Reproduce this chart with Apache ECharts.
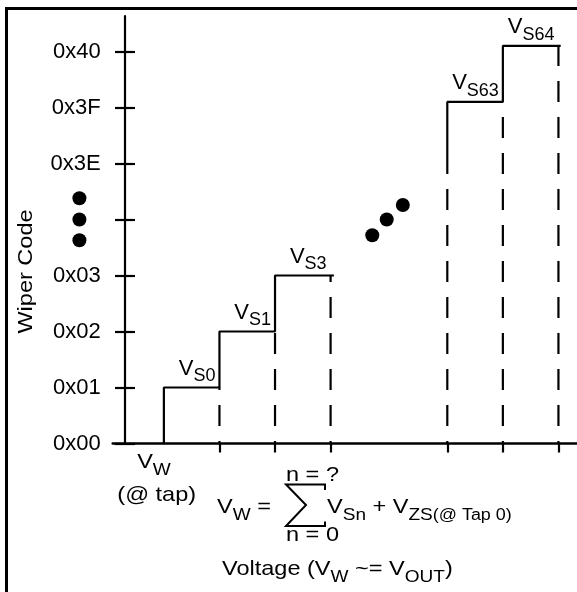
<!DOCTYPE html>
<html>
<head>
<meta charset="utf-8">
<title>Wiper Code vs Voltage</title>
<script src="https://cdn.jsdelivr.net/npm/echarts@6/dist/echarts.min.js"></script>
<style>
  html, body { margin: 0; padding: 0; background: #fff; }
  #chart { width: 577px; height: 592px; }
</style>
</head>
<body>
<div id="chart"></div>
<script>
  // wiper codes on the y axis (0x04 .. 0x3D are left out of the drawing)
  var codeTicks = [0, 1, 2, 3, 4, 5, 6, 7];
  var codeLabels = ['0x00', '0x01', '0x02', '0x03', '', '0x3E', '0x3F', '0x40'];

  // staircase: x in tap steps measured from the code axis, y in code steps
  var lowStepX = [0.7, 1.7, 2.7, 3.76];
  var lowStepY = [0, 1, 2, 3];
  var highStepX = [5.8, 6.8, 7.84];
  var highStepY = [5.1, 6.1, 7.1];

  // dashed tap boundaries and the code level each one reaches
  var tapEdgeX = [1.7, 2.7, 3.7, 5.8, 6.8, 7.8];
  var tapEdgeTop = [1, 2, 3, 5.1, 6.1, 7.1];

  // step names, sitting on the right end of their step
  var stepNames = ['S0', 'S1', 'S3', 'S63', 'S64'];
  var stepNameX = [1.7, 2.7, 3.7, 6.8, 7.8];
  var stepNameY = [1, 2, 3, 6.1, 7.1];

  // the "..." marks
  var gapDotX = [4.45, 4.71, 5.0];
  var gapDotY = [3.72, 4.0, 4.26];
  var axisDotX = [-0.82, -0.82, -0.82];
  var axisDotY = [3.63, 4.0, 4.38];

  var FONT = '"Liberation Sans", Arial, Helvetica, sans-serif';

  function pairs(xs, ys) {
    return xs.map(function (x, i) { return [x, ys[i]]; });
  }

  // rich styles for V with subscript
  var labelRich = {
    v: { fontSize: 22, fontFamily: FONT, color: '#000', height: 22, lineHeight: 22, verticalAlign: 'top' },
    s: { fontSize: 18, fontFamily: FONT, color: '#000', height: 18, lineHeight: 28, padding: [10, 0, 0, 0], verticalAlign: 'top' }
  };
  var textRich = {
    v: { fontSize: 21, fontFamily: FONT, height: 21, lineHeight: 21, verticalAlign: 'top' },
    s: { fontSize: 17, fontFamily: FONT, height: 17, lineHeight: 28, padding: [10, 0, 0, 0], verticalAlign: 'top' },
    t: { fontSize: 16, fontFamily: FONT, height: 16, lineHeight: 28, padding: [10.9, 0, 0, 0], verticalAlign: 'top' }
  };
  var SX = 1.12;   // the source lettering is a bit wider than Arial

  var chart = echarts.init(document.getElementById('chart'));

  var series = [];
  series.push({
    type: 'line', name: 'low steps', step: 'start',
    data: pairs(lowStepX, lowStepY),
    showSymbol: false, clip: false, z: 3,
    lineStyle: { color: '#000', width: 2.2 }
  });
  series.push({
    type: 'line', name: 'high steps', step: 'start',
    data: pairs(highStepX, highStepY),
    showSymbol: false, clip: false, z: 3,
    lineStyle: { color: '#000', width: 2.2 }
  });
  for (var i = 0; i < tapEdgeX.length; i++) {
    series.push({
      type: 'line', name: 'edge' + i,
      data: [[tapEdgeX[i], 0], [tapEdgeX[i], tapEdgeTop[i]]],
      showSymbol: false, clip: false, z: 2,
      lineStyle: { color: '#000', width: 2.2, type: [21, 15], dashOffset: 18.5 }
    });
  }
  series.push({
    type: 'scatter', name: 'gap dots',
    data: pairs(gapDotX, gapDotY),
    symbolSize: 14, itemStyle: { color: '#000', opacity: 1 }, clip: false
  });
  series.push({
    type: 'scatter', name: 'axis dots',
    data: pairs(axisDotX, axisDotY),
    symbolSize: 14, itemStyle: { color: '#000', opacity: 1 }, clip: false
  });
  series.push({
    type: 'scatter', name: 'step names',
    data: stepNames.map(function (n, k) { return { name: n, value: [stepNameX[k], stepNameY[k]] }; }),
    symbolSize: 1, itemStyle: { color: 'rgba(0,0,0,0)', opacity: 1 }, clip: false,
    label: {
      show: true, position: 'insideBottomRight', distance: 0, offset: [-4.5, -2.5],
      color: '#000', opacity: 1,
      formatter: function (p) { return '{v|V}{s|' + p.name + '}'; },
      rich: labelRich
    }
  });

  var option = {
    backgroundColor: '#fff',
    animation: false,
    grid: { left: 112.7, right: 0, top: 16, bottom: 148.5 },
    xAxis: {
      type: 'value', min: -0.221, max: 8.134,
      axisLine: { show: true, onZero: false, lineStyle: { color: '#000', width: 2.5 } },
      axisTick: { show: true, length: 9, customValues: tapEdgeX, lineStyle: { color: '#000', width: 2.2 } },
      axisLabel: { show: false },
      splitLine: { show: false }
    },
    yAxis: [
      {
        type: 'value', position: 'left', min: 0, max: 7.634,
        axisLine: { show: true, onZero: true, onZeroAxisIndex: 0, lineStyle: { color: '#000', width: 2.2 } },
        axisTick: { show: true, length: 10, customValues: codeTicks, lineStyle: { color: '#000', width: 2.2 } },
        axisLabel: {
          show: true, customValues: codeTicks, margin: 12,
          fontSize: 22, fontFamily: FONT, color: '#000',
          formatter: function (v) { return codeLabels[v] || ''; }
        },
        splitLine: { show: false }
      },
      {
        // same axis again, only to draw the right half of each cross tick
        type: 'value', position: 'left', min: 0, max: 7.634,
        axisLine: { show: false, onZero: true, onZeroAxisIndex: 0 },
        axisTick: { show: true, inside: true, length: 10, customValues: codeTicks, lineStyle: { color: '#000', width: 2.2 } },
        axisLabel: { show: false },
        splitLine: { show: false }
      }
    ],
    graphic: [
      { type: 'rect', silent: true, shape: { x: 6.5, y: 8.5, width: 700, height: 700 },
        style: { fill: 'none', stroke: '#000', lineWidth: 3 } },
      { type: 'text', silent: true, x: 26, y: 271.5, rotation: Math.PI / 2, scaleX: SX,
        style: { text: 'Wiper Code', font: '21px ' + FONT, fill: '#000', align: 'center', verticalAlign: 'middle' } },
      { type: 'text', silent: true, x: 154, y: 452, scaleX: SX,
        style: { text: '{v|V}{s|W}', rich: textRich, fill: '#000', align: 'center', verticalAlign: 'top' } },
      { type: 'text', silent: true, x: 156.7, y: 495.2, scaleX: SX,
        style: { text: '(@ tap)', font: '21px ' + FONT, fill: '#000', align: 'center', verticalAlign: 'middle' } },
      { type: 'text', silent: true, x: 217, y: 497, scaleX: SX,
        style: { text: '{v|V}{s|W}{v| =}', rich: textRich, fill: '#000', align: 'left', verticalAlign: 'top' } },
      { type: 'polyline', silent: true,
        shape: { points: [[325, 490], [325, 484.5], [286, 484.5], [306, 505], [286, 526], [325, 526], [325, 521.5]] },
        style: { fill: 'none', stroke: '#000', lineWidth: 2 } },
      { type: 'text', silent: true, x: 286, y: 475.2, scaleX: SX,
        style: { text: 'n = ?', font: '21px ' + FONT, fill: '#000', align: 'left', verticalAlign: 'middle' } },
      { type: 'text', silent: true, x: 286, y: 535, scaleX: SX,
        style: { text: 'n = 0', font: '21px ' + FONT, fill: '#000', align: 'left', verticalAlign: 'middle' } },
      { type: 'text', silent: true, x: 327, y: 497, scaleX: SX,
        style: { text: '{v|V}{s|Sn}{v| + V}{s|ZS}{t|(@ Tap 0)}', rich: textRich, fill: '#000', align: 'left', verticalAlign: 'top' } },
      { type: 'text', silent: true, x: 222, y: 559, scaleX: SX,
        style: { text: '{v|Voltage (V}{s|W}{v| ~= V}{s|OUT}{v|)}', rich: textRich, fill: '#000', align: 'left', verticalAlign: 'top' } }
    ],
    series: series
  };

  chart.setOption(option);
</script>
</body>
</html>
